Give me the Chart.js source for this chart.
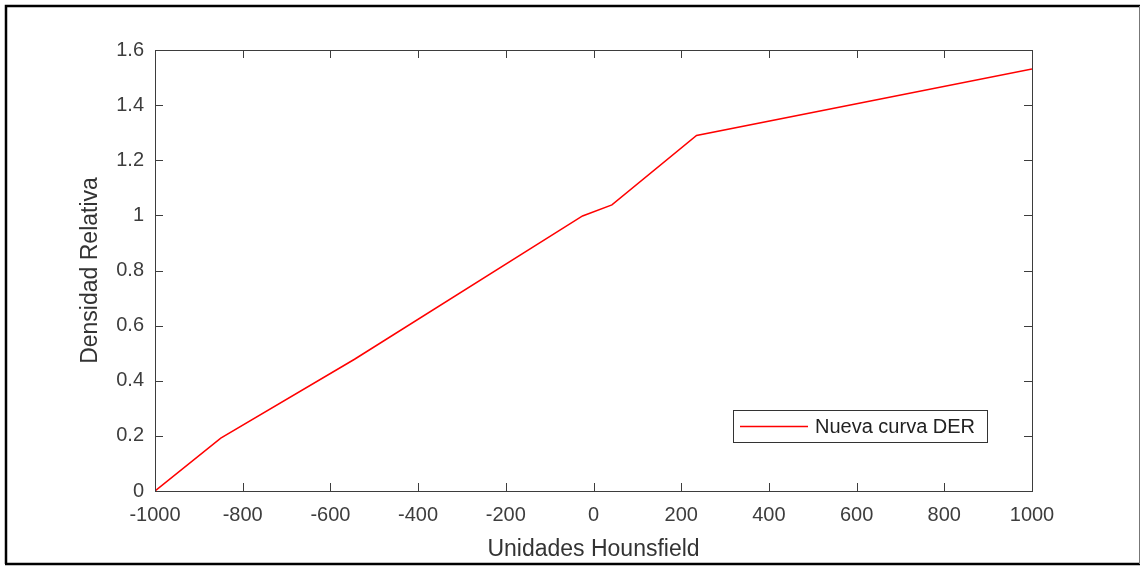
<!DOCTYPE html>
<html>
<head>
<meta charset="utf-8">
<script src="https://cdn.jsdelivr.net/npm/chart.js@4.4.1/dist/chart.umd.min.js"></script>
<style>
  html, body { margin: 0; padding: 0; background: #fff; }
  #wrap { width: 1142px; height: 566px; }
</style>
</head>
<body>
<div id="wrap"><canvas id="myChart" width="1142" height="566"></canvas></div>
<script>
// curve: HU -> relative density
var hu      = [-1000, -850, -545, -25, 42, 235, 1000];
var density = [0, 0.192, 0.478, 0.998, 1.038, 1.29, 1.531];
var xTicks  = [-1000, -800, -600, -400, -200, 0, 200, 400, 600, 800, 1000];
var xTickLabels = ['-1000', '-800', '-600', '-400', '-200', '0', '200', '400', '600', '800', '1000'];
var yTicks  = [0, 0.2, 0.4, 0.6, 0.8, 1, 1.2, 1.4, 1.6];
var yTickLabels = ['0', '0.2', '0.4', '0.6', '0.8', '1', '1.2', '1.4', '1.6'];

var points = hu.map(function (v, i) { return { x: v, y: density[i] }; });

var axisColor = '#3d3d3d';
var font = 'Liberation Sans, Arial, Helvetica, sans-serif';

// box around the plot, ticks pointing inward on all 4 sides, legend inside
var matlabBox = {
  id: 'matlabBox',
  afterDraw: function (chart) {
    var ctx = chart.ctx, a = chart.chartArea;
    var xs = chart.scales.x, ys = chart.scales.y;
    var tl = 8;
    ctx.save();
    ctx.strokeStyle = axisColor;
    ctx.lineWidth = 1;
    ctx.strokeRect(a.left + 0.5, a.top + 0.5, a.right - a.left, a.bottom - a.top);
    ctx.beginPath();
    xTicks.forEach(function (t) {
      var px = Math.round(xs.getPixelForValue(t)) + 0.5;
      ctx.moveTo(px, a.bottom); ctx.lineTo(px, a.bottom - tl);
      ctx.moveTo(px, a.top); ctx.lineTo(px, a.top + tl);
    });
    yTicks.forEach(function (t) {
      var py = Math.round(ys.getPixelForValue(t)) + 0.5;
      ctx.moveTo(a.left, py); ctx.lineTo(a.left + tl, py);
      ctx.moveTo(a.right, py); ctx.lineTo(a.right - tl, py);
    });
    ctx.stroke();

    // legend
    var ds = chart.data.datasets[0];
    var bx = a.right - 299, by = a.bottom - 81, bw = 254, bh = 32;
    ctx.fillStyle = '#fff';
    ctx.fillRect(bx, by, bw, bh);
    ctx.strokeStyle = '#333';
    ctx.strokeRect(bx + 0.5, by + 0.5, bw, bh);
    ctx.strokeStyle = ds.borderColor;
    ctx.lineWidth = 1.5;
    ctx.beginPath();
    ctx.moveTo(bx + 7, by + 16.5); ctx.lineTo(bx + 75, by + 16.5);
    ctx.stroke();
    ctx.fillStyle = '#222';
    ctx.font = '20px ' + font;
    ctx.textBaseline = 'middle';
    ctx.textAlign = 'left';
    ctx.fillText(ds.label, bx + 82, by + 17);

    // outer frame of the figure
    ctx.strokeStyle = '#000';
    ctx.lineWidth = 2.5;
    ctx.beginPath();
    ctx.moveTo(6, 564); ctx.lineTo(6, 6); ctx.lineTo(1140, 6);
    ctx.moveTo(5, 564); ctx.lineTo(1140, 564);
    ctx.stroke();
    ctx.strokeStyle = '#777';
    ctx.lineWidth = 1;
    ctx.beginPath();
    ctx.moveTo(1139.5, 6); ctx.lineTo(1139.5, 564);
    ctx.stroke();
    ctx.restore();
  }
};

var ctx = document.getElementById('myChart').getContext('2d');
var myChart = new Chart(ctx, {
    type: 'line',
    data: {
        datasets: [{
            label: 'Nueva curva DER',
            data: points,
            borderColor: '#ff0000',
            borderWidth: 1.5,
            pointRadius: 0,
            tension: 0,
            fill: false
        }]
    },
    options: {
        responsive: false,
        animation: false,
        layout: { padding: { left: 0, top: 50, right: 110, bottom: 0 } },
        plugins: {
            legend: { display: false },
            tooltip: { enabled: false }
        },
        scales: {
            x: {
                type: 'linear',
                min: -1000,
                max: 1000,
                grid: { display: false, drawTicks: false },
                border: { display: false },
                afterBuildTicks: function (s) { s.ticks = xTicks.map(function (v) { return { value: v }; }); },
                afterFit: function (s) { s.height = 75; },
                ticks: {
                    padding: 12,
                    color: axisColor,
                    font: { family: font, size: 20 },
                    maxRotation: 0,
                    autoSkip: false,
                    callback: function (v, i) { return xTickLabels[i]; }
                },
                title: {
                    display: true,
                    text: 'Unidades Hounsfield',
                    color: '#333',
                    font: { family: font, size: 23 },
                    padding: { top: 0, bottom: 3 }
                }
            },
            y: {
                min: 0,
                max: 1.6,
                grid: { display: false, drawTicks: false },
                border: { display: false },
                afterBuildTicks: function (s) { s.ticks = yTicks.map(function (v) { return { value: v }; }); },
                afterFit: function (s) { s.width = 155; },
                ticks: {
                    padding: 11,
                    color: axisColor,
                    font: { family: font, size: 20 },
                    autoSkip: false,
                    callback: function (v, i) { return yTickLabels[i]; }
                },
                title: {
                    display: true,
                    text: 'Densidad Relativa',
                    color: '#333',
                    font: { family: font, size: 23 },
                    padding: { top: 77, bottom: 0 }
                }
            }
        }
    },
    plugins: [matlabBox]
});
</script>
</body>
</html>
